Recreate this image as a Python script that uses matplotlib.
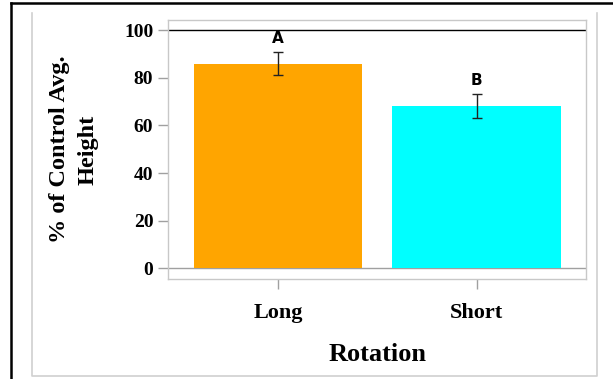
import matplotlib
matplotlib.use("Agg")
import matplotlib.pyplot as plt
from matplotlib.lines import Line2D

# data
categories = ["Long", "Short"]
values = [86.0, 68.2]
errors = [4.8, 5.0]
letters = ["A", "B"]
bar_colors = ["#FFA500", "#00FFFF"]

W, H = 613, 379
fig = plt.figure(figsize=(W / 100, H / 100), dpi=100)

def px_x(x):
    return x / W

def px_y(y):
    return 1 - y / H

# outer frame lines (black top/left, light gray inner box)
fig.add_artist(Line2D([px_x(11), 1], [px_y(3), px_y(3)], color="black", lw=1.8))
fig.add_artist(Line2D([px_x(11), px_x(11)], [px_y(3), 0], color="black", lw=1.8))
fig.add_artist(Line2D([px_x(31.7), px_x(31.7), px_x(596.7), px_x(596.7)],
                      [px_y(13), px_y(376.3), px_y(376.3), px_y(13)],
                      color="#d0d0d0", lw=1.2))

ax_l, ax_r, ax_t, ax_b = 168.3, 586.3, 20, 279
ax = fig.add_axes([px_x(ax_l), px_y(ax_b), (ax_r - ax_l) / W, (ax_b - ax_t) / H])

x = list(range(len(categories)))
ax.bar(x, values, width=0.85, color=bar_colors, zorder=2)
ax.errorbar(x, values, yerr=errors, fmt="none", ecolor="#222222",
            elinewidth=1.0, capsize=3.5, capthick=1.0, zorder=3)
for xi, v, e, lab in zip(x, values, errors, letters):
    ax.text(xi, v + e + 3.8, lab, ha="center", va="baseline",
            fontsize=11, fontweight="bold", family="DejaVu Sans")

ax.axhline(100, color="black", lw=1.0, zorder=1)
ax.axhline(0, color="#a0a0a0", lw=1.0, zorder=1)

ax.set_xlim(-0.553, 1.553)
ax.set_ylim(-4.5, 104.3)
ax.set_yticks([0, 20, 40, 60, 80, 100])
ax.set_xticks(x)
ax.set_xticklabels(categories)

for s in ax.spines.values():
    s.set_color("#c8c8c8")
    s.set_linewidth(1.0)

serif = "Liberation Serif"
ax.tick_params(axis="y", direction="out", length=7.2, width=1, color="#a0a0a0", pad=3.6,
               labelsize=14)
ax.tick_params(axis="x", direction="out", length=7.2, width=1, color="#a0a0a0", pad=10,
               labelsize=16)
for lab in ax.get_yticklabels() + ax.get_xticklabels():
    lab.set_family(serif)
    lab.set_fontweight("bold")

ax.set_ylabel("% of Control Avg.\nHeight", family=serif, fontweight="bold",
              fontsize=17.5, linespacing=1.45)
ax.yaxis.label.set_va("center")
ax.yaxis.set_label_coords((74 - ax_l) / (ax_r - ax_l), 0.5)

ax.set_xlabel("Rotation", family=serif, fontweight="bold", fontsize=19)
ax.xaxis.label.set_va("baseline")
ax.xaxis.set_label_coords(0.5, (ax_b - 361) / (ax_b - ax_t))

fig.savefig("out.png", dpi=100)
